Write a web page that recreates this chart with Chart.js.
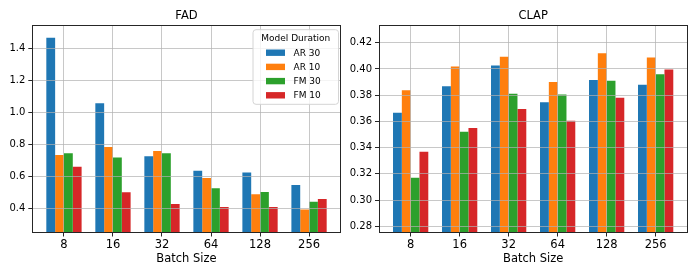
<!DOCTYPE html>
<html><head><meta charset="utf-8">
<script src="https://cdn.jsdelivr.net/npm/chart.js@4"></script>
<style>
html,body{margin:0;padding:0;background:#fff;}
#wrap{position:relative;width:698px;height:279px;overflow:hidden;background:#fff}
canvas{position:absolute;top:0}
</style></head><body>
<div id="wrap">
<canvas id="fad" width="349" height="279" style="left:0"></canvas>
<canvas id="clap" width="349" height="279" style="left:349px"></canvas>
</div>
<script>
const categories = ['8','16','32','64','128','256'];
const seriesNames = ['AR 30','AR 10','FM 30','FM 10'];
const legendTitle = 'Model Duration';
const xTitle = 'Batch Size';

const fadAR30 = [1.469, 1.059, 0.727, 0.637, 0.625, 0.548];
const fadAR10 = [0.736, 0.786, 0.761, 0.592, 0.490, 0.394];
const fadFM30 = [0.746, 0.719, 0.746, 0.527, 0.504, 0.442];
const fadFM10 = [0.661, 0.502, 0.429, 0.409, 0.409, 0.459];

const clapAR30 = [0.3666, 0.3867, 0.4026, 0.3745, 0.3916, 0.3880];
const clapAR10 = [0.3838, 0.4018, 0.4093, 0.3900, 0.4119, 0.4087];
const clapFM30 = [0.3170, 0.3521, 0.3810, 0.3805, 0.3910, 0.3960];
const clapFM10 = [0.3368, 0.3549, 0.3694, 0.3605, 0.3780, 0.3995];

const fadTicks = [0.4, 0.6, 0.8, 1.0, 1.2, 1.4];
const clapTicks = [0.28, 0.30, 0.32, 0.34, 0.36, 0.38, 0.40, 0.42];

const colors = ['#1f77b4', '#ff7f0e', '#2ca02c', '#d62728'];
const FONT = "'DejaVu Sans', 'Liberation Sans', sans-serif";

const overlay = {
  id: 'overlay',
  afterDatasetsDraw(chart, args, opts) {
    const {ctx, chartArea: a, scales: {x, y}} = chart;
    const L = Math.floor(a.left) + 0.5, R = Math.floor(a.right) + 0.5;
    const T = Math.floor(a.top) + 0.5, B = Math.floor(a.bottom) + 0.5;
    ctx.save();
    ctx.strokeStyle = 'rgba(176,176,176,0.7)';
    ctx.lineWidth = 1;
    ctx.beginPath();
    y.ticks.forEach(t => {
      const py = Math.floor(y.getPixelForValue(t.value)) + 0.5;
      ctx.moveTo(L, py); ctx.lineTo(R, py);
    });
    x.ticks.forEach(t => {
      const px = Math.floor(x.getPixelForValue(t.value)) + 0.5;
      ctx.moveTo(px, T); ctx.lineTo(px, B);
    });
    ctx.stroke();
    ctx.strokeStyle = '#262626';
    ctx.lineWidth = 1;
    ctx.strokeRect(L, T, R - L, B - T);

    if (opts.legend) {
      const w = 85.5, h = 74.6;
      const bx = a.right - 2.2 - w, by = a.top + 4.2;
      const r = 3;
      ctx.beginPath();
      ctx.moveTo(bx + r, by);
      ctx.lineTo(bx + w - r, by);
      ctx.arcTo(bx + w, by, bx + w, by + r, r);
      ctx.lineTo(bx + w, by + h - r);
      ctx.arcTo(bx + w, by + h, bx + w - r, by + h, r);
      ctx.lineTo(bx + r, by + h);
      ctx.arcTo(bx, by + h, bx, by + h - r, r);
      ctx.lineTo(bx, by + r);
      ctx.arcTo(bx, by, bx + r, by, r);
      ctx.closePath();
      ctx.fillStyle = 'rgba(255,255,255,0.8)';
      ctx.fill();
      ctx.strokeStyle = '#d4d4d4';
      ctx.stroke();

      ctx.font = '9px ' + FONT;
      ctx.fillStyle = '#000';
      ctx.textBaseline = 'middle';
      ctx.textAlign = 'center';
      ctx.fillText(legendTitle, bx + w / 2, by + 8.7);
      ctx.textAlign = 'left';
      chart.data.datasets.forEach((ds, i) => {
        const ry = by + 23 + i * 14.2;
        ctx.fillStyle = ds.backgroundColor;
        ctx.fillRect(bx + 13, ry - 3.2, 19, 6.4);
        ctx.fillStyle = '#000';
        ctx.fillText(ds.label, bx + 40.5, ry + 0.5);
      });
    }
    ctx.restore();
  }
};

function makeChart(id, seriesList, yMin, yMax, yTicks, decimals, title, yWidth, padRight, showLegend) {
  const datasets = seriesList.map((vals, k) => ({
    label: seriesNames[k],
    data: vals.map((v, i) => ({x: i, y: v})),
    backgroundColor: colors[k],
    borderWidth: 0,
    categoryPercentage: 0.72,
    barPercentage: 1.0
  }));
  return new Chart(document.getElementById(id), {
    type: 'bar',
    data: {datasets},
    options: {
      responsive: false,
      animation: false,
      devicePixelRatio: 1,
      layout: {padding: {left: 0, right: padRight, top: 0, bottom: 0}},
      plugins: {
        legend: {display: false},
        tooltip: {enabled: false},
        title: {
          display: true, text: title, fullSize: false, color: '#000',
          font: {family: FONT, size: 11.5, weight: 'normal'},
          padding: {top: 9.1, bottom: 2.6}
        },
        overlay: {legend: showLegend}
      },
      scales: {
        x: {
          type: 'linear',
          offset: false,
          min: -0.646, max: 5.646,
          afterBuildTicks: s => { s.ticks = categories.map((_, i) => ({value: i})); },
          afterFit: s => { s.height = 46.5; },
          ticks: {
            callback: v => categories[v] !== undefined ? categories[v] : '',
            color: '#000', font: {family: FONT, size: 11.5}, padding: 2,
            maxRotation: 0, autoSkip: false
          },
          grid: {display: true, offset: false, drawOnChartArea: false, drawTicks: true, tickLength: 4, color: '#262626', lineWidth: 1},
          border: {display: false},
          title: {
            display: true, text: xTitle, color: '#000',
            font: {family: FONT, size: 11.5}, padding: {top: 0, bottom: 12.6}
          }
        },
        y: {
          type: 'linear',
          min: yMin, max: yMax,
          afterBuildTicks: s => { s.ticks = yTicks.map(v => ({value: v})); },
          afterFit: s => { s.width = yWidth; },
          ticks: {
            callback: v => Number(v).toFixed(decimals),
            color: '#000', font: {family: FONT, size: 10}, padding: 3
          },
          grid: {display: true, drawOnChartArea: false, drawTicks: true, tickLength: 4, color: '#262626', lineWidth: 1},
          border: {display: false}
        }
      }
    },
    plugins: [overlay]
  });
}

makeChart('fad', [fadAR30, fadAR10, fadFM30, fadFM10], 0.25, 1.546, fadTicks, 1, 'FAD', 32.3, 8.3, true);
makeChart('clap', [clapAR30, clapAR10, clapFM30, clapFM10], 0.2753, 0.4331, clapTicks, 2, 'CLAP', 30, 10.7, false);
</script>
</body></html>
